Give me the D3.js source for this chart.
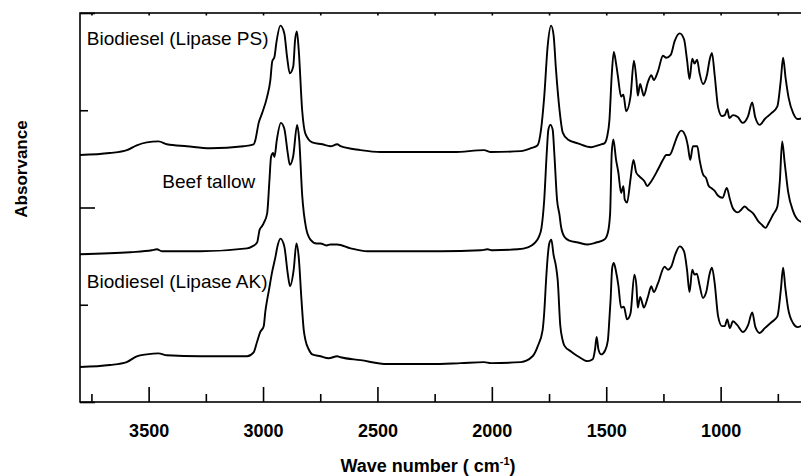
<!DOCTYPE html>
<html lang="en">
<head>
<meta charset="UTF-8">
<title>FTIR spectra</title>
<script src="https://cdn.jsdelivr.net/npm/d3@7"></script>
<style>
    body { margin: 0; background: #fff; }
    text { font-family: "Liberation Sans", Arial, sans-serif; fill: #000; }
</style>
</head>
<body>
<div id="chart"></div>
<script>
// spectra: [wave number, absorbance (a.u., stacked)]
var lipasePS = [[3800,2.54],[3670,2.56],[3595,2.59],[3552,2.64],[3508,2.67],[3457,2.68],[3420,2.65],[3333,2.63],[3231,2.61],[3085,2.63],[3041,2.65],[3034,2.69],[3019,2.87],[3004,2.97],[2982,3.14],[2968,3.31],[2960,3.50],[2950,3.55],[2942,3.69],[2924,3.87],[2907,3.79],[2895,3.55],[2883,3.38],[2868,3.45],[2860,3.72],[2852,3.81],[2844,3.62],[2829,3.00],[2815,2.76],[2785,2.67],[2741,2.65],[2705,2.63],[2676,2.65],[2661,2.63],[2574,2.59],[2486,2.57],[2311,2.57],[2165,2.57],[2034,2.59],[2004,2.57],[1873,2.58],[1829,2.61],[1800,2.64],[1785,2.80],[1771,3.14],[1756,3.66],[1741,3.87],[1730,3.77],[1720,3.43],[1704,3.00],[1690,2.77],[1668,2.70],[1624,2.66],[1566,2.62],[1522,2.65],[1508,2.66],[1496,2.73],[1486,2.90],[1476,3.36],[1467,3.60],[1457,3.48],[1449,3.35],[1435,3.14],[1425,3.16],[1413,2.99],[1394,3.14],[1379,3.51],[1368,3.31],[1362,3.15],[1352,3.27],[1344,3.21],[1336,3.15],[1318,3.29],[1303,3.36],[1292,3.31],[1274,3.40],[1252,3.56],[1238,3.54],[1218,3.57],[1201,3.71],[1179,3.79],[1160,3.73],[1147,3.52],[1136,3.32],[1124,3.53],[1114,3.48],[1103,3.52],[1092,3.38],[1077,3.27],[1060,3.36],[1048,3.52],[1038,3.59],[1026,3.36],[1011,3.03],[994,2.94],[982,2.95],[971,3.01],[962,2.92],[946,2.95],[925,2.93],[904,2.87],[880,2.94],[862,3.08],[849,2.93],[829,2.85],[807,2.91],[778,2.97],[752,3.04],[737,3.31],[727,3.54],[716,3.33],[703,3.13],[683,2.97],[664,2.91],[642,2.92]];

var beefTallow = [[3800,1.52],[3581,1.54],[3486,1.56],[3464,1.57],[3442,1.55],[3274,1.55],[3070,1.58],[3047,1.60],[3026,1.64],[3015,1.77],[3004,1.81],[2997,1.84],[2982,1.94],[2972,2.28],[2965,2.52],[2956,2.56],[2950,2.52],[2940,2.69],[2922,2.87],[2907,2.81],[2892,2.56],[2883,2.44],[2868,2.53],[2851,2.85],[2842,2.70],[2829,2.13],[2812,1.79],[2793,1.67],[2766,1.63],[2749,1.63],[2723,1.61],[2705,1.62],[2676,1.62],[2617,1.58],[2544,1.55],[2398,1.55],[2223,1.55],[2048,1.56],[2019,1.57],[1997,1.56],[1887,1.57],[1843,1.59],[1815,1.63],[1794,1.70],[1783,1.79],[1771,2.08],[1760,2.56],[1753,2.80],[1744,2.85],[1734,2.80],[1727,2.56],[1715,2.08],[1704,1.92],[1698,1.81],[1683,1.70],[1661,1.66],[1624,1.64],[1581,1.62],[1544,1.64],[1508,1.67],[1493,1.74],[1483,1.94],[1476,2.56],[1469,2.70],[1457,2.49],[1447,2.36],[1435,2.15],[1425,2.22],[1419,2.08],[1409,2.05],[1394,2.29],[1381,2.49],[1369,2.36],[1355,2.32],[1333,2.27],[1321,2.22],[1303,2.27],[1274,2.39],[1252,2.49],[1238,2.54],[1223,2.54],[1213,2.58],[1201,2.66],[1190,2.73],[1172,2.79],[1153,2.73],[1143,2.63],[1133,2.49],[1121,2.63],[1102,2.63],[1092,2.49],[1077,2.34],[1063,2.30],[1052,2.22],[1041,2.20],[1026,2.17],[1011,2.12],[992,2.10],[973,2.20],[960,2.09],[946,1.99],[925,1.95],[909,1.98],[895,2.01],[880,1.98],[858,1.94],[836,1.86],[819,1.82],[804,1.79],[790,1.84],[770,1.93],[752,2.01],[741,2.28],[731,2.68],[720,2.46],[705,2.16],[683,1.96],[661,1.87],[642,1.85]];

var lipaseAK = [[3800,0.36],[3669,0.38],[3596,0.41],[3552,0.47],[3508,0.49],[3457,0.50],[3420,0.48],[3274,0.47],[3070,0.47],[3041,0.51],[3026,0.62],[3012,0.72],[2997,0.78],[2990,0.93],[2982,1.05],[2975,1.14],[2960,1.34],[2946,1.49],[2937,1.60],[2924,1.68],[2907,1.60],[2892,1.32],[2882,1.19],[2866,1.36],[2854,1.63],[2844,1.49],[2832,1.05],[2822,0.74],[2815,0.64],[2800,0.54],[2785,0.49],[2749,0.47],[2713,0.45],[2676,0.47],[2661,0.46],[2574,0.43],[2457,0.39],[2267,0.39],[2136,0.40],[2034,0.41],[2004,0.40],[1873,0.41],[1822,0.47],[1800,0.57],[1778,0.74],[1771,0.92],[1763,1.25],[1757,1.46],[1749,1.63],[1740,1.67],[1730,1.51],[1720,1.40],[1712,1.25],[1701,0.79],[1691,0.64],[1683,0.58],[1654,0.52],[1617,0.46],[1581,0.42],[1559,0.44],[1549,0.54],[1542,0.67],[1534,0.54],[1522,0.49],[1505,0.53],[1493,0.63],[1486,0.86],[1481,1.05],[1474,1.38],[1467,1.43],[1457,1.34],[1447,1.20],[1435,0.97],[1423,0.98],[1409,0.85],[1394,0.91],[1377,1.31],[1368,1.19],[1362,0.97],[1352,1.08],[1344,1.03],[1336,0.97],[1318,1.08],[1303,1.19],[1292,1.13],[1274,1.22],[1245,1.39],[1230,1.36],[1216,1.39],[1198,1.52],[1179,1.60],[1160,1.55],[1147,1.36],[1136,1.13],[1124,1.36],[1114,1.31],[1104,1.32],[1092,1.20],[1077,1.07],[1063,1.13],[1048,1.32],[1038,1.38],[1026,1.22],[1011,0.88],[994,0.78],[982,0.78],[971,0.85],[960,0.76],[946,0.83],[927,0.79],[902,0.72],[880,0.79],[862,0.92],[848,0.77],[829,0.71],[807,0.76],[778,0.82],[752,0.88],[737,1.15],[727,1.38],[717,1.17],[705,0.96],[683,0.81],[664,0.77],[642,0.79]];

var seriesNames = ["Biodiesel (Lipase PS)", "Beef tallow", "Biodiesel (Lipase AK)"];
// where each name sits: [wave number at text start, absorbance at baseline]
var labelSpots = [[3770, 3.67], [3440, 2.20], [3770, 1.17]];

var xMajor = [3500, 3000, 2500, 2000, 1500, 1000];
var xMinor = [3750, 3250, 2750, 2250, 1750, 1250, 750];
var yMajor = [0, 2, 4];
var yMinor = [1, 3];

var width = 801, height = 476;
var margin = {top: 13, right: -2, bottom: 74, left: 80};

var x = d3.scaleLinear().domain([3800, 640]).range([margin.left, width - margin.right]);
var y = d3.scaleLinear().domain([0, 4]).range([height - margin.bottom, margin.top]);

var svg = d3.select("#chart").append("svg")
    .attr("width", width)
    .attr("height", height);

var line = d3.line()
    .x(function(d) { return x(d[0]); })
    .y(function(d) { return y(d[1]); })
    .curve(d3.curveMonotoneX);

var spectra = [lipasePS, beefTallow, lipaseAK];
svg.append("g").selectAll("path")
    .data(spectra)
    .enter()
    .append("path")
    .attr("d", line)
    .attr("fill", "none")
    .attr("stroke", "#000")
    .attr("stroke-width", 1.9)
    .attr("stroke-linejoin", "round");

// frame
svg.append("rect")
    .attr("x", x(3800))
    .attr("y", y(4))
    .attr("width", x(640) - x(3800) + 2)
    .attr("height", y(0) - y(4))
    .attr("fill", "none")
    .attr("stroke", "#000")
    .attr("stroke-width", 1.6);

function cleanAxis(g) {
    g.select(".domain").remove();
    g.selectAll("line").attr("stroke-width", 1.6);
}

// bottom axis, ticks inside
var bottomAxis = svg.append("g")
    .attr("transform", "translate(0," + y(0) + ")")
    .call(d3.axisBottom(x).tickValues(xMajor).tickSize(-15).tickPadding(22).tickFormat(d3.format("d")));
cleanAxis(bottomAxis);
bottomAxis.selectAll("text")
    .attr("font-size", "18px")
    .attr("font-weight", "bold")
    .attr("font-family", "'Liberation Sans', Arial, sans-serif");

var bottomMinor = svg.append("g")
    .attr("transform", "translate(0," + y(0) + ")")
    .call(d3.axisBottom(x).tickValues(xMinor).tickSize(-8).tickFormat(""));
cleanAxis(bottomMinor);

// tiny ticks on the top edge
var topAxis = svg.append("g")
    .attr("transform", "translate(0," + y(4) + ")")
    .call(d3.axisTop(x).tickValues(xMajor.concat(xMinor)).tickSize(-2.5).tickFormat(""));
cleanAxis(topAxis);

// left axis, no labels
var leftAxis = svg.append("g")
    .attr("transform", "translate(" + x(3800) + ",0)")
    .call(d3.axisLeft(y).tickValues(yMajor).tickSize(-15).tickFormat(""));
cleanAxis(leftAxis);

var leftMinor = svg.append("g")
    .attr("transform", "translate(" + x(3800) + ",0)")
    .call(d3.axisLeft(y).tickValues(yMinor).tickSize(-8).tickFormat(""));
cleanAxis(leftMinor);

// series names
svg.append("g").selectAll("text")
    .data(seriesNames)
    .enter()
    .append("text")
    .attr("x", function(d, i) { return x(labelSpots[i][0]); })
    .attr("y", function(d, i) { return y(labelSpots[i][1]); })
    .attr("font-size", "19px")
    .text(function(d) { return d; });

// axis titles
var xTitle = svg.append("text")
    .attr("x", 428)
    .attr("y", 472)
    .attr("text-anchor", "middle")
    .attr("font-size", "18px")
    .attr("font-weight", "bold");
xTitle.append("tspan").text("Wave number ( cm");
xTitle.append("tspan").attr("font-size", "11px").attr("dy", -7).text("-1");
xTitle.append("tspan").attr("dy", 7).text(")");

svg.append("text")
    .attr("transform", "translate(26.5,169) rotate(-90)")
    .attr("text-anchor", "middle")
    .attr("font-size", "17px")
    .attr("font-weight", "bold")
    .text("Absorvance");
</script>
</body>
</html>
